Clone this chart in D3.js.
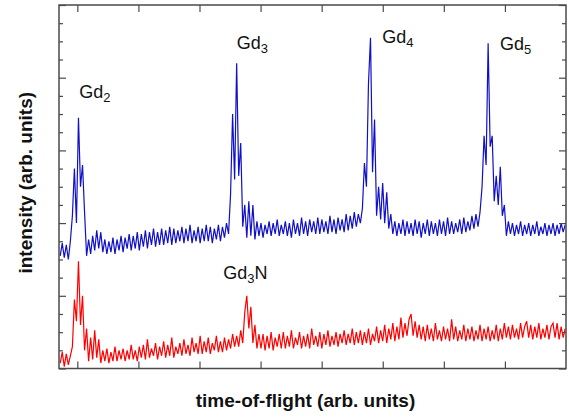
<!DOCTYPE html>
<html>
<head>
<meta charset="utf-8">
<script src="https://cdn.jsdelivr.net/npm/d3@7"></script>
<style>
    body { margin: 0; background: #fff; }
    text { font-family: "Liberation Sans", Arial, sans-serif; }
</style>
</head>
<body>
<svg id="TofChart"></svg>
<script>
// time-of-flight axis (arb. units): first sample and spacing
const tofStart = -0.28;
const tofStep = 0.0332;
const tofTicks = [0, 1, 2, 3, 4, 5, 6, 7];

// upper trace (blue)
const blueCounts = [
    62, 69, 61, 68, 60, 70, 84, 110, 80, 138,
    100, 112, 86, 62, 71, 63, 73, 65, 76, 66,
    75, 64, 71, 63, 70, 64, 72, 63, 71, 65,
    73, 64, 72, 66, 74, 65, 73, 66, 75, 65,
    74, 67, 76, 66, 75, 68, 77, 67, 75, 68,
    77, 68, 76, 69, 78, 68, 77, 69, 76, 70,
    78, 69, 77, 70, 79, 69, 76, 70, 78, 69,
    77, 70, 79, 70, 78, 69, 77, 71, 79, 70,
    78, 72, 80, 74, 96, 140, 104, 168, 106, 124,
    78, 90, 72, 92, 73, 90, 71, 81, 73, 80,
    72, 79, 74, 81, 73, 80, 74, 82, 73, 79,
    74, 81, 73, 80, 72, 82, 74, 80, 73, 83,
    74, 81, 73, 82, 75, 81, 74, 83, 74, 82,
    75, 81, 74, 84, 75, 82, 74, 83, 76, 82,
    75, 85, 76, 84, 77, 86, 78, 85, 80, 88,
    113, 100, 157, 182, 108, 137, 84, 100, 82, 102,
    80, 97, 77, 85, 74, 81, 73, 80, 74, 82,
    73, 81, 74, 80, 73, 82, 74, 81, 72, 80,
    74, 82, 73, 81, 74, 80, 73, 82, 74, 81,
    73, 83, 74, 81, 74, 80, 75, 82, 74, 83,
    75, 81, 76, 84, 77, 85, 78, 86, 100, 128,
    112, 179, 122, 128, 92, 106, 90, 111, 84, 90,
    73, 81, 74, 80, 73, 79, 74, 81, 73, 79,
    74, 80, 73, 79, 74, 81, 73, 78, 74, 80,
    73, 79, 74, 80, 73, 79, 74, 80, 75, 79
];

// lower trace (red)
const redCounts = [
    3, 9, 1, 8, 2, 7, 12, 38, 26, 59,
    24, 40, 10, 22, 4, 17, 5, 21, 6, 16,
    3, 10, 4, 11, 3, 9, 4, 12, 4, 10,
    5, 11, 4, 10, 5, 13, 5, 10, 4, 12,
    6, 13, 5, 16, 6, 11, 7, 14, 5, 12,
    7, 15, 6, 13, 7, 17, 6, 12, 8, 14,
    7, 16, 8, 13, 7, 17, 9, 14, 8, 18,
    8, 15, 9, 17, 8, 14, 10, 18, 9, 15,
    9, 17, 10, 16, 11, 19, 12, 18, 12, 21,
    14, 31, 40, 22, 34, 14, 24, 11, 19, 11,
    19, 10, 18, 11, 20, 10, 17, 12, 19, 11,
    20, 11, 18, 12, 21, 11, 17, 13, 20, 11,
    18, 12, 19, 11, 22, 13, 18, 12, 20, 11,
    19, 13, 21, 12, 18, 13, 20, 12, 19, 14,
    21, 13, 19, 14, 22, 13, 20, 14, 21, 13,
    20, 14, 22, 13, 19, 15, 23, 14, 21, 15,
    24, 14, 22, 16, 25, 15, 23, 16, 28, 17,
    25, 18, 27, 30, 18, 26, 17, 24, 16, 23,
    15, 24, 16, 22, 15, 25, 16, 21, 15, 23,
    16, 22, 15, 27, 16, 23, 15, 21, 16, 24,
    15, 22, 16, 23, 15, 21, 16, 24, 15, 22,
    16, 23, 15, 21, 16, 24, 15, 22, 16, 25,
    17, 23, 16, 24, 17, 22, 16, 25, 17, 23,
    26, 17, 24, 16, 23, 17, 25, 16, 22, 17,
    24, 16, 23, 25, 17, 25, 16, 23, 17, 22
];

// peak labels: name, subscript, trailing text, anchor in data units
const peakLabels = [
    {name: "Gd", sub: "2", tail: "", tof: 0.03, counts: 149},
    {name: "Gd", sub: "3", tail: "", tof: 2.61, counts: 176},
    {name: "Gd", sub: "4", tail: "", tof: 4.99, counts: 179},
    {name: "Gd", sub: "5", tail: "", tof: 6.92, counts: 175},
    {name: "Gd", sub: "3", tail: "N", tof: 2.39, counts: 49}
];

class TofChart {

    constructor(width, height) {
        let margin = {top: 5, right: 3, bottom: 48.5, left: 59};
        this.innerwidth = width - margin.left - margin.right;
        this.innerheight = height - margin.top - margin.bottom;
        this.root = d3.select('#TofChart')
            .attr("width", width)
            .attr("height", height);
        this.svg = this.root.append("g")
            .attr("transform", "translate(" + margin.left + "," + margin.top + ")");
        this.margin = margin;
        this.initialize();
    }

    initialize() {
        let x = d3.scaleLinear()
            .domain([-0.3, 8])
            .range([0, this.innerwidth]);
        let y = d3.scaleLinear()
            .domain([0, 200])
            .range([this.innerheight, 0]);
        let minor = d3.range(0, 201, 10);
        let axisColor = "#4a4a4a";

        let line = d3.line()
            .x((d, i) => x(tofStart + i * tofStep))
            .y(d => y(d));

        this.svg.append("path")
            .datum(redCounts)
            .attr("fill", "none")
            .attr("stroke", "#ff0000")
            .attr("stroke-width", 1.2)
            .attr("d", line);

        this.svg.append("path")
            .datum(blueCounts)
            .attr("fill", "none")
            .attr("stroke", "#1010c8")
            .attr("stroke-width", 1.2)
            .attr("d", line);

        // ticks point inward on all four sides
        let axes = [
            this.svg.append("g")
                .attr("transform", "translate(0," + this.innerheight + ")")
                .call(d3.axisBottom(x).tickValues(tofTicks).tickSize(-7).tickFormat("")),
            this.svg.append("g")
                .call(d3.axisTop(x).tickValues(tofTicks).tickSize(-7).tickFormat("")),
            this.svg.append("g")
                .call(d3.axisLeft(y).tickValues(minor).tickFormat("")),
            this.svg.append("g")
                .attr("transform", "translate(" + this.innerwidth + ",0)")
                .call(d3.axisRight(y).tickValues(minor).tickFormat(""))
        ];
        axes.forEach(g => {
            g.select(".domain").remove();
            g.selectAll("line").attr("stroke", axisColor).attr("stroke-width", 1.2);
        });
        axes[2].selectAll("line").attr("x2", d => d % 40 == 0 ? 7 : 4);
        axes[3].selectAll("line").attr("x2", d => d % 40 == 0 ? -7 : -4);

        this.svg.append("rect")
            .attr("width", this.innerwidth)
            .attr("height", this.innerheight)
            .attr("fill", "none")
            .attr("stroke", axisColor)
            .attr("stroke-width", 1.5);

        let labels = this.svg.selectAll(".peak")
            .data(peakLabels)
            .enter()
            .append("text")
            .attr("class", "peak")
            .attr("x", d => x(d.tof))
            .attr("y", d => y(d.counts))
            .attr("font-size", 18)
            .attr("fill", "#111");
        labels.append("tspan").text(d => d.name);
        labels.append("tspan")
            .attr("font-size", 13)
            .attr("dy", 4)
            .text(d => d.sub);
        labels.filter(d => d.tail != "")
            .append("tspan")
            .attr("dy", -4)
            .text(d => d.tail);

        this.root.append("text")
            .attr("transform", "translate(32," + (this.margin.top + this.innerheight / 2 - 4) + ")rotate(-90)")
            .attr("text-anchor", "middle")
            .attr("font-size", 19)
            .attr("font-weight", "bold")
            .attr("fill", "#111")
            .text("intensity (arb. units)");

        this.root.append("text")
            .attr("x", this.margin.left + this.innerwidth / 2 - 7)
            .attr("y", 407)
            .attr("text-anchor", "middle")
            .attr("font-size", 19)
            .attr("font-weight", "bold")
            .attr("fill", "#111")
            .text("time-of-flight (arb. units)");
    }
}

new TofChart(569, 417);
</script>
</body>
</html>
